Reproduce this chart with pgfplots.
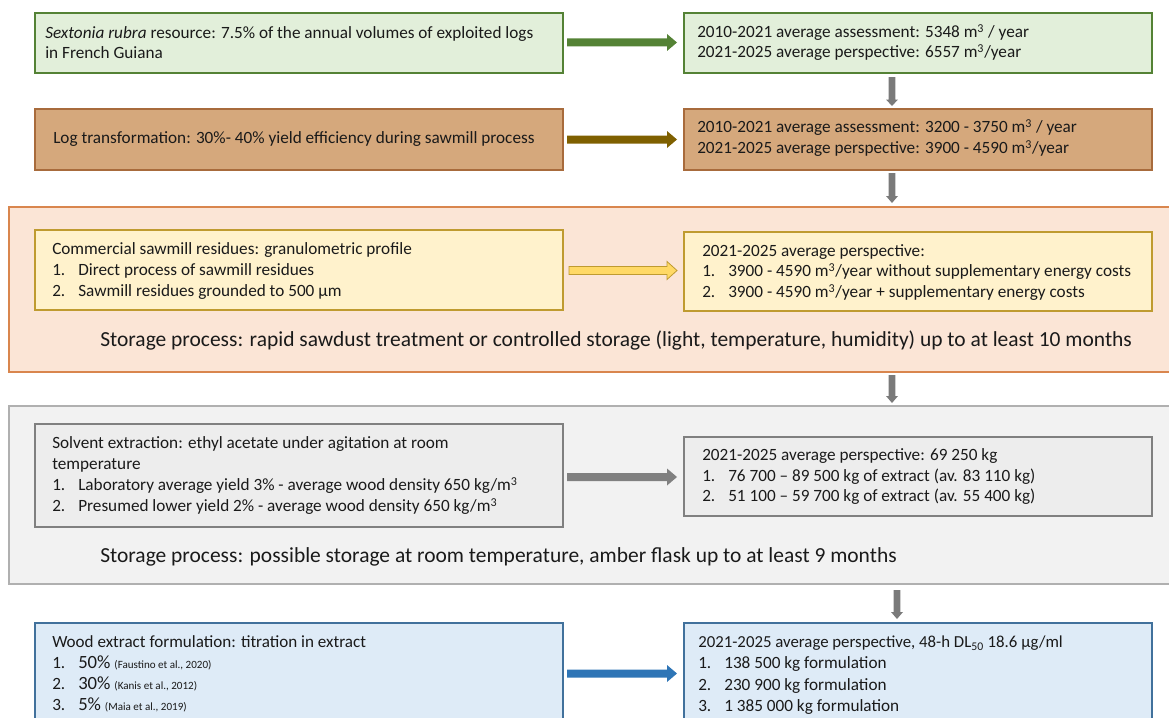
\documentclass[border=0pt]{standalone}
\usepackage{pgfplots}
\pgfplotsset{compat=1.18}
\usepackage{fontspec}
\setmainfont{Carlito}

\definecolor{txt}{HTML}{1A1A1A}
\definecolor{grnfill}{HTML}{E2EFDA}
\definecolor{grnline}{HTML}{548235}
\definecolor{tanfill}{HTML}{D5A87C}
\definecolor{tanline}{HTML}{A86B3C}
\definecolor{brnarrow}{HTML}{7F6000}
\definecolor{orgfill}{HTML}{FBE5D6}
\definecolor{orgline}{HTML}{D9864E}
\definecolor{ylwfill}{HTML}{FFF2CC}
\definecolor{ylwline}{HTML}{BF9B30}
\definecolor{ylwarrow}{HTML}{FFD966}
\definecolor{gryfill}{HTML}{F2F2F2}
\definecolor{gryline}{HTML}{B0B0B0}
\definecolor{boxfill}{HTML}{EDEDED}
\definecolor{boxline}{HTML}{808080}
\definecolor{bluefill}{HTML}{DEEBF7}
\definecolor{blueline}{HTML}{41719C}
\definecolor{bluearrow}{HTML}{2E75B6}
\definecolor{downarrow}{HTML}{7A7A7A}

\newcommand{\fbody}{\fontsize{12.9}{15}\selectfont}
\newcommand{\fbig}{\fontsize{16.1}{19}\selectfont}
% one line of text, left end at (x,y) in pixel units
\newcommand{\tl}[4][\fbody]{\node[anchor=mid west, inner sep=0pt, yshift=-1.3pt, text=txt, font=#1] at (axis cs:#2,#3) {#4};}

\begin{document}
\begin{tikzpicture}
\begin{axis}[
    hide axis, scale only axis, no markers,
    width=876.75pt, height=537.75pt,
    xmin=0, xmax=1169, ymin=0, ymax=717, y dir=reverse,
    clip=true
]
% background panels
\addplot[fill=orgfill, draw=orgline, line width=0.8pt]
    coordinates {(9,207)(1180,207)(1180,372)(9,372)} --cycle;
\addplot[fill=gryfill, draw=gryline, line width=0.8pt]
    coordinates {(9,406)(1180,406)(1180,584)(9,584)} --cycle;

% left boxes
\addplot[fill=grnfill, draw=grnline, line width=0.8pt]
    coordinates {(35,13)(563,13)(563,73)(35,73)} --cycle;
\addplot[fill=tanfill, draw=tanline, line width=0.8pt]
    coordinates {(35,109)(563,109)(563,170)(35,170)} --cycle;
\addplot[fill=ylwfill, draw=ylwline, line width=0.8pt]
    coordinates {(35,230)(563,230)(563,310)(35,310)} --cycle;
\addplot[fill=boxfill, draw=boxline, line width=0.8pt]
    coordinates {(35,424)(563,424)(563,527)(35,527)} --cycle;
\addplot[fill=bluefill, draw=blueline, line width=0.8pt]
    coordinates {(35,623)(563,623)(563,740)(35,740)} --cycle;

% right boxes
\addplot[fill=grnfill, draw=grnline, line width=0.8pt]
    coordinates {(684,13)(1152,13)(1152,73)(684,73)} --cycle;
\addplot[fill=tanfill, draw=tanline, line width=0.8pt]
    coordinates {(684,109)(1152,109)(1152,170)(684,170)} --cycle;
\addplot[fill=ylwfill, draw=ylwline, line width=0.8pt]
    coordinates {(684,232)(1152,232)(1152,311)(684,311)} --cycle;
\addplot[fill=boxfill, draw=boxline, line width=0.8pt]
    coordinates {(684,437)(1152,437)(1152,516)(684,516)} --cycle;
\addplot[fill=bluefill, draw=blueline, line width=0.8pt]
    coordinates {(684,623)(1152,623)(1152,740)(684,740)} --cycle;

% horizontal block arrows
\addplot[fill=grnline, draw=none]
    coordinates {(567,38.5)(667,38.5)(667,34)(677,42.5)(667,51)(667,46.5)(567,46.5)} --cycle;
\addplot[fill=brnarrow, draw=none]
    coordinates {(567,135.5)(667,135.5)(667,131)(677,139.5)(667,148)(667,143.5)(567,143.5)} --cycle;
\addplot[fill=ylwarrow, draw=ylwline, line width=0.6pt]
    coordinates {(569,266.5)(667,266.5)(667,261.5)(677,270.5)(667,279.5)(667,274.5)(569,274.5)} --cycle;
\addplot[fill=boxline, draw=none]
    coordinates {(567,473)(667,473)(667,468.5)(677,477)(667,485.5)(667,481)(567,481)} --cycle;
\addplot[fill=bluearrow, draw=none]
    coordinates {(567,669.5)(667,669.5)(667,665)(677,673.5)(667,682)(667,677.5)(567,677.5)} --cycle;

% vertical arrows
\addplot[fill=downarrow, draw=none]
    coordinates {(888.7,77)(895.3,77)(895.3,99.5)(898,99.5)(892,106)(886,99.5)(888.7,99.5)} --cycle;
\addplot[fill=downarrow, draw=none]
    coordinates {(888.7,173)(895.3,173)(895.3,196)(898,196)(892,203)(886,196)(888.7,196)} --cycle;
\addplot[fill=downarrow, draw=none]
    coordinates {(888.7,375)(895.3,375)(895.3,396)(898,396)(892,403)(886,396)(888.7,396)} --cycle;
\addplot[fill=downarrow, draw=none]
    coordinates {(893.7,590)(900.3,590)(900.3,612)(903,612)(897,619)(891,612)(893.7,612)} --cycle;

% row 1
\tl{45}{34}{\textit{Sextonia rubra} resource: 7.5\% of the annual volumes of exploited logs}
\tl{45}{54}{in French Guiana}
\tl{697}{33}{2010-2021 average assessment: 5348 m\textsuperscript{3} / year}
\tl{697}{53}{2021-2025 average perspective: 6557 m\textsuperscript{3}/year}

% row 2
\tl{53}{139}{Log transformation: 30\%- 40\% yield efficiency during sawmill process}
\tl{697}{128}{2010-2021 average assessment: 3200 - 3750 m\textsuperscript{3} / year}
\tl{697}{149}{2021-2025 average perspective: 3900 - 4590 m\textsuperscript{3}/year}

% row 3
\tl{52}{250}{Commercial sawmill residues: granulometric profile}
\tl{52}{271}{1.}
\tl{78}{271}{Direct process of sawmill residues}
\tl{52}{292}{2.}
\tl{78}{292}{Sawmill residues grounded to 500 µm}
\tl{702}{252}{2021-2025 average perspective:}
\tl{702}{272}{1.}
\tl{728}{272}{3900 - 4590 m\textsuperscript{3}/year without supplementary energy costs}
\tl{702}{293}{2.}
\tl{728}{293}{3900 - 4590 m\textsuperscript{3}/year + supplementary energy costs}
\tl[\fbig]{100}{342}{Storage process: rapid sawdust treatment or controlled storage (light, temperature, humidity) up to at least 10 months}

% row 4
\tl{52}{444}{Solvent extraction: ethyl acetate under agitation at room}
\tl{52}{465}{temperature}
\tl{52}{486}{1.}
\tl{78}{486}{Laboratory average yield 3\% - average wood density 650 kg/m\textsuperscript{3}}
\tl{52}{507}{2.}
\tl{78}{507}{Presumed lower yield 2\% - average wood density 650 kg/m\textsuperscript{3}}
\tl{702}{456}{2021-2025 average perspective: 69 250 kg}
\tl{702}{477}{1.}
\tl{728}{477}{76 700 -- 89 500 kg of extract (av. 83 110 kg)}
\tl{702}{497}{2.}
\tl{728}{497}{51 100 -- 59 700 kg of extract (av. 55 400 kg)}
\tl[\fbig]{100}{558}{Storage process: possible storage at room temperature, amber flask up to at least 9 months}

% row 5
\tl[\fontsize{12.8}{16}\selectfont]{52}{643}{Wood extract formulation: titration in extract}
\tl{52}{664}{1.}
\tl{78}{664}{{\fontsize{14}{17}\selectfont 50\%} {\fontsize{8.3}{10}\selectfont (Faustino et al., 2020)}}
\tl{52}{685}{2.}
\tl{78}{685}{{\fontsize{14}{17}\selectfont 30\%} {\fontsize{8.3}{10}\selectfont (Kanis et al., 2012)}}
\tl{52}{706}{3.}
\tl{78}{706}{{\fontsize{14}{17}\selectfont 5\%} {\fontsize{8.3}{10}\selectfont (Maia et al., 2019)}}
\tl[\fontsize{12.6}{15}\selectfont]{698}{643}{2021-2025 average perspective, 48-h DL\textsubscript{50} 18.6 µg/ml}
\tl{698}{664}{1.}
\tl{724}{664}{138 500 kg formulation}
\tl{698}{686}{2.}
\tl{724}{686}{230 900 kg formulation}
\tl{698}{707}{3.}
\tl{724}{707}{1 385 000 kg formulation}
\end{axis}
\pgfresetboundingbox
\path (current axis.south west) rectangle (current axis.north east);
\end{tikzpicture}
\end{document}
